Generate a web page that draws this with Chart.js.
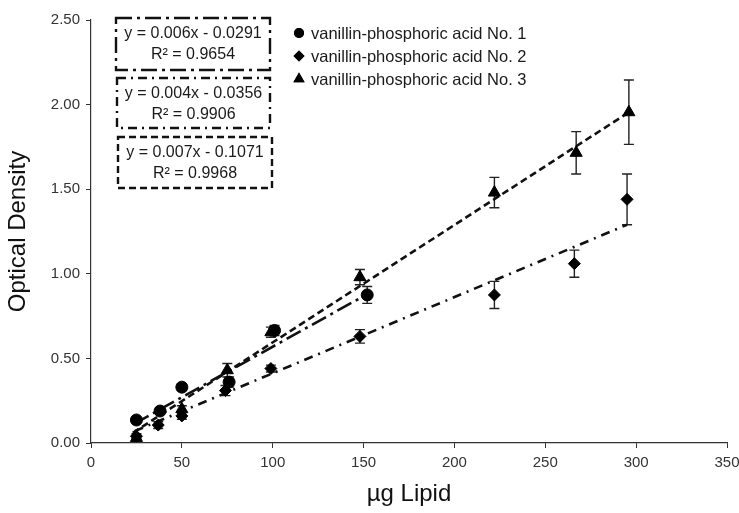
<!DOCTYPE html>
<html>
<head>
<meta charset="utf-8">
<script src="https://cdn.jsdelivr.net/npm/chart.js@4.4.1/dist/chart.umd.min.js"></script>
<style>
  html, body { margin: 0; padding: 0; background: #fff; }
  #wrap { width: 739px; height: 513px; position: relative; }
</style>
</head>
<body>
<div id="wrap"><canvas id="grafic"></canvas></div>
<script>
// Dades llegides del gràfic
const xTicks = [0, 50, 100, 150, 200, 250, 300, 350];
const yTicks = [0, 0.5, 1.0, 1.5, 2.0, 2.5];

// vanillin-phosphoric acid No. 1 (cercles)
const x1 = [25, 38, 50, 76, 101, 152];
const y1 = [0.136, 0.189, 0.33, 0.36, 0.665, 0.875];
const e1 = [0.015, 0.02, 0.02, 0.03, 0.03, 0.05];

// No. 2 (rombes)
const x2 = [25, 37, 50, 74, 99, 148, 222, 266, 295];
const y2 = [0.04, 0.106, 0.16, 0.31, 0.44, 0.63, 0.875, 1.06, 1.44];
const e2 = [0.015, 0.02, 0.02, 0.03, 0.02, 0.04, 0.08, 0.08, 0.15];

// No. 3 (triangles)
const x3 = [25, 50, 75, 99, 148, 222, 267, 296];
const y3 = [0.03, 0.20, 0.43, 0.655, 0.98, 1.48, 1.715, 1.955];
const e3 = [0.015, 0.02, 0.04, 0.03, 0.045, 0.09, 0.125, 0.19];

// Línies de tendència (extrems)
const tendX1 = [24, 152], tendY1 = [0.115, 0.88];
const tendX2 = [24, 295], tendY2 = [0.07, 1.29];
const tendX3 = [23, 296], tendY3 = [0.06, 1.955];

const equacions = [
  ['y = 0.006x - 0.0291', 'R² = 0.9654'],
  ['y = 0.004x - 0.0356', 'R² = 0.9906'],
  ['y = 0.007x - 0.1071', 'R² = 0.9968']
];
const etiquetes = ['vanillin-phosphoric acid No. 1', 'vanillin-phosphoric acid No. 2', 'vanillin-phosphoric acid No. 3'];

const FONT = '"Liberation Sans", Arial, sans-serif';

const punts = (xs, ys) => xs.map((x, i) => ({ x: x, y: ys[i] }));

function serieMarca(xs, ys, estil, radi) {
  return {
    type: 'scatter', data: punts(xs, ys),
    pointStyle: estil, pointRadius: radi, pointHoverRadius: radi,
    backgroundColor: '#000', borderColor: '#000', borderWidth: 1, order: 0
  };
}
function serieTend(xs, ys, dash) {
  return {
    type: 'line', data: punts(xs, ys), showLine: true,
    borderColor: '#111', borderWidth: 2.6, borderDash: dash,
    pointRadius: 0, fill: false, order: 1
  };
}

// Barres d'error
const errorBars = {
  id: 'errorBars',
  beforeDatasetsDraw(chart) {
    const { ctx, scales: { x, y } } = chart;
    const sets = [[x1, y1, e1], [x2, y2, e2], [x3, y3, e3]];
    ctx.save();
    ctx.strokeStyle = '#222';
    ctx.lineWidth = 1.4;
    sets.forEach(([xs, ys, es]) => {
      xs.forEach((xv, i) => {
        const px = x.getPixelForValue(xv);
        const top = y.getPixelForValue(ys[i] + es[i]);
        const bot = y.getPixelForValue(ys[i] - es[i]);
        ctx.beginPath();
        ctx.moveTo(px, top); ctx.lineTo(px, bot);
        ctx.moveTo(px - 5, top); ctx.lineTo(px + 5, top);
        ctx.moveTo(px - 5, bot); ctx.lineTo(px + 5, bot);
        ctx.stroke();
      });
    });
    ctx.restore();
  }
};

// Llegenda i caixes d'equacions
const anotacions = {
  id: 'anotacions',
  afterDraw(chart) {
    const ctx = chart.ctx;
    ctx.save();
    // llegenda
    const estils = ['circle', 'rectRot', 'triangle'];
    const radis = [5, 5.5, 6.5];
    ctx.font = '16.5px ' + FONT;
    ctx.textBaseline = 'middle';
    etiquetes.forEach((t, i) => {
      const yy = 33 + i * 23;
      ctx.fillStyle = '#000';
      Chart.helpers.drawPoint(ctx, { pointStyle: estils[i], radius: radis[i], borderWidth: 0 }, 299, yy);
      ctx.fill();
      ctx.fillStyle = '#1a1a1a';
      ctx.textAlign = 'left';
      ctx.fillText(t, 311, yy + 1);
    });
    // caixes
    const caixes = [
      { x: 116, y: 18, w: 154, h: 52, dash: [16, 5, 3, 5] },
      { x: 117, y: 78, w: 153, h: 50, dash: [9, 5, 2, 5] },
      { x: 118, y: 137, w: 154, h: 51, dash: [7, 4] }
    ];
    caixes.forEach((c, i) => {
      ctx.strokeStyle = '#111';
      ctx.lineWidth = 2.4;
      ctx.setLineDash(c.dash);
      ctx.strokeRect(c.x, c.y, c.w, c.h);
      ctx.setLineDash([]);
      ctx.fillStyle = '#1a1a1a';
      ctx.font = '16px ' + FONT;
      ctx.textAlign = 'center';
      ctx.fillText(equacions[i][0], c.x + c.w / 2, c.y + 16);
      ctx.fillText(equacions[i][1], c.x + c.w / 2, c.y + 37);
    });
    ctx.restore();
  }
};

new Chart(document.getElementById('grafic'), {
  data: {
    datasets: [
      serieTend(tendX1, tendY1, [16, 5, 3, 5]),
      serieTend(tendX2, tendY2, [9, 6, 2, 6]),
      serieTend(tendX3, tendY3, [7, 4]),
      serieMarca(x1, y1, 'circle', 6),
      serieMarca(x2, y2, 'rectRot', 6),
      serieMarca(x3, y3, 'triangle', 7)
    ]
  },
  options: {
    responsive: true,
    maintainAspectRatio: false,
    animation: false,
    layout: { padding: { top: 20, right: 12, left: 0, bottom: 0 } },
    plugins: { legend: { display: false }, tooltip: { enabled: false } },
    scales: {
      x: {
        type: 'linear', min: 0, max: 350,
        afterBuildTicks: s => { s.ticks = xTicks.map(v => ({ value: v })); },
        afterFit: s => { s.height = 70; s.paddingRight = 0; s.paddingLeft = 0; },
        grid: { drawOnChartArea: false, tickLength: 5, color: '#333', tickColor: '#333' },
        border: { color: '#333', width: 1.2 },
        ticks: { color: '#333', font: { family: FONT, size: 15 }, padding: 6 },
        title: { display: true, text: 'µg Lipid', color: '#111', font: { family: FONT, size: 24 }, padding: { top: 6 } }
      },
      y: {
        type: 'linear', min: 0, max: 2.5,
        afterBuildTicks: s => { s.ticks = yTicks.map(v => ({ value: v })); },
        afterFit: s => { s.width = 91; s.paddingTop = 0; s.paddingBottom = 0; },
        grid: { drawOnChartArea: false, tickLength: 5, color: '#333', tickColor: '#333' },
        border: { color: '#333', width: 1.2 },
        ticks: { color: '#333', font: { family: FONT, size: 15 }, padding: 6, callback: v => v.toFixed(2) },
        title: { display: true, text: 'Optical Density', color: '#111', font: { family: FONT, size: 24 }, padding: { bottom: 4 } }
      }
    }
  },
  plugins: [errorBars, anotacions]
});
</script>
</body>
</html>
